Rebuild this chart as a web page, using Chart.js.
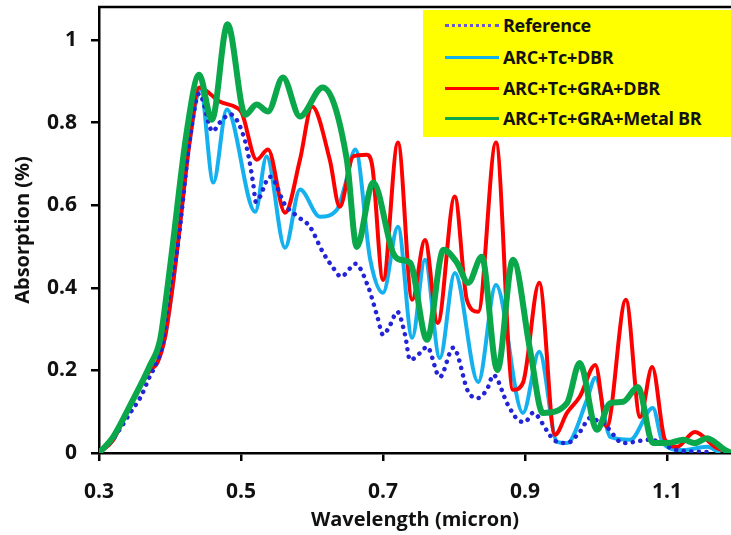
<!DOCTYPE html>
<html>
<head>
<meta charset="utf-8">
<script src="https://cdn.jsdelivr.net/npm/chart.js@4.4.0/dist/chart.umd.min.js"></script>
<style>
  html, body { margin: 0; padding: 0; background: #fff; }
  #wrap { position: relative; width: 731px; height: 535px; }
  #legend {
    position: absolute; left: 423px; top: 10px; width: 308px; height: 127px;
    background: #ffff00; font: bold 18px "Open Sans", sans-serif; color: #111;
    letter-spacing: -0.3px;
  }
  .item { position: absolute; left: 22px; height: 22px; display: flex; align-items: center; white-space: nowrap; }
  .swatch { width: 54px; height: 0; margin-right: 4px; }
</style>
</head>
<body>
<div id="wrap">
  <canvas id="absChart" width="731" height="535"></canvas>
  <div id="legend"></div>
</div>
<script>
// Absorption spectra
const xTicks = [0.3, 0.5, 0.7, 0.9, 1.1];
const yTicks = [0, 0.2, 0.4, 0.6, 0.8, 1];

const seriesNames = ['Reference', 'ARC+Tc+DBR', 'ARC+Tc+GRA+DBR', 'ARC+Tc+GRA+Metal BR'];

// Reference (dotted)
const refX = [0.300, 0.320, 0.345, 0.360, 0.370, 0.380, 0.390, 0.400, 0.410, 0.428, 0.441,
  0.460, 0.470, 0.485, 0.503, 0.511, 0.517, 0.521, 0.541, 0.562, 0.580, 0.597, 0.615,
  0.630, 0.641, 0.654, 0.661, 0.679, 0.692, 0.700, 0.710, 0.720, 0.731, 0.738, 0.752,
  0.762, 0.780, 0.799, 0.820, 0.834, 0.848, 0.855, 0.876, 0.890, 0.900, 0.911, 0.932,
  0.940, 0.959, 0.977, 0.992, 1.000, 1.015, 1.038, 1.076, 1.114, 1.160];
const refY = [0.000, 0.035, 0.100, 0.140, 0.180, 0.215, 0.270, 0.400, 0.490, 0.759, 0.870,
  0.779, 0.800, 0.820, 0.771, 0.715, 0.654, 0.608, 0.669, 0.601, 0.572, 0.548, 0.487,
  0.448, 0.427, 0.448, 0.458, 0.403, 0.330, 0.286, 0.310, 0.342, 0.286, 0.225, 0.242,
  0.257, 0.184, 0.255, 0.148, 0.133, 0.160, 0.189, 0.116, 0.080, 0.075, 0.097, 0.051,
  0.032, 0.024, 0.051, 0.085, 0.080, 0.063, 0.024, 0.032, 0.007, 0.002];

// ARC+Tc+DBR
const dbrX = [0.300, 0.320, 0.344, 0.372, 0.382, 0.393, 0.403, 0.410, 0.428, 0.443,
  0.461, 0.480, 0.520, 0.536, 0.562, 0.583, 0.611, 0.635, 0.646, 0.661, 0.682, 0.700,
  0.721, 0.741, 0.759, 0.780, 0.801, 0.834, 0.859, 0.897, 0.920, 0.945, 0.959, 0.987,
  0.999, 1.020, 1.048, 1.080, 1.094, 1.122, 1.156, 1.175];
const dbrY = [0.000, 0.032, 0.116, 0.201, 0.218, 0.281, 0.395, 0.492, 0.759, 0.880,
  0.655, 0.832, 0.584, 0.718, 0.497, 0.638, 0.572, 0.589, 0.645, 0.735, 0.468, 0.388,
  0.548, 0.279, 0.468, 0.230, 0.436, 0.172, 0.407, 0.097, 0.245, 0.027, 0.024, 0.128,
  0.182, 0.039, 0.032, 0.109, 0.024, 0.007, 0.015, 0.000];

// ARC+Tc+GRA+DBR
const graX = [0.300, 0.320, 0.344, 0.372, 0.382, 0.393, 0.403, 0.410, 0.428, 0.441,
  0.470, 0.494, 0.501, 0.522, 0.538, 0.562, 0.583, 0.600, 0.625, 0.639, 0.658, 0.677,
  0.685, 0.700, 0.721, 0.741, 0.759, 0.777, 0.801, 0.818, 0.834, 0.859, 0.883, 0.897,
  0.920, 0.942, 0.959, 0.977, 0.999, 1.015, 1.042, 1.062, 1.079, 1.097, 1.114, 1.139,
  1.170, 1.190];
const graY = [0.000, 0.032, 0.116, 0.201, 0.218, 0.281, 0.395, 0.492, 0.759, 0.885,
  0.851, 0.836, 0.824, 0.710, 0.735, 0.582, 0.710, 0.839, 0.710, 0.596, 0.718, 0.722,
  0.693, 0.419, 0.752, 0.371, 0.516, 0.315, 0.621, 0.371, 0.342, 0.752, 0.153, 0.170,
  0.412, 0.044, 0.097, 0.136, 0.213, 0.063, 0.371, 0.087, 0.208, 0.032, 0.015, 0.051,
  0.012, 0.002];

// ARC+Tc+GRA+Metal BR
const metalX = [0.300, 0.320, 0.344, 0.372, 0.386, 0.396, 0.403, 0.424, 0.441, 0.459,
  0.481, 0.506, 0.522, 0.538, 0.559, 0.583, 0.615, 0.649, 0.663, 0.686, 0.714, 0.724,
  0.738, 0.762, 0.785, 0.804, 0.820, 0.839, 0.861, 0.883, 0.907, 0.925, 0.959, 0.977,
  1.001, 1.020, 1.038, 1.059, 1.080, 1.101, 1.123, 1.139, 1.156, 1.182, 1.190];
const metalY = [0.000, 0.039, 0.116, 0.213, 0.274, 0.395, 0.492, 0.783, 0.916, 0.807,
  1.038, 0.819, 0.844, 0.827, 0.909, 0.815, 0.885, 0.710, 0.499, 0.655, 0.485, 0.468,
  0.461, 0.274, 0.492, 0.461, 0.412, 0.475, 0.201, 0.468, 0.250, 0.097, 0.121, 0.218,
  0.056, 0.121, 0.124, 0.160, 0.024, 0.024, 0.032, 0.024, 0.036, 0.007, 0.000];

const colors = ['#2323d8', '#14b1ee', '#ff0000', '#0aa84a'];
const widths = [4.5, 4, 4, 6];

function toPoints(xs, ys) {
  return xs.map((x, i) => ({ x: x, y: ys[i] }));
}

const FONT = '"Open Sans", sans-serif';

// Excel-style frame line along the top of the plot area
const topBorder = {
  id: 'topBorder',
  afterDraw(chart) {
    const { ctx, chartArea } = chart;
    ctx.save();
    ctx.strokeStyle = '#000';
    ctx.lineWidth = 2.5;
    ctx.beginPath();
    ctx.moveTo(chartArea.left - 1, chartArea.top);
    ctx.lineTo(chartArea.right, chartArea.top);
    ctx.stroke();
    ctx.restore();
  }
};

const datasets = [
  { label: seriesNames[0], data: toPoints(refX, refY), borderColor: colors[0], borderWidth: widths[0],
    borderDash: [0.1, 7.5], borderCapStyle: 'round', order: 1 },
  { label: seriesNames[1], data: toPoints(dbrX, dbrY), borderColor: colors[1], borderWidth: widths[1], order: 3 },
  { label: seriesNames[2], data: toPoints(graX, graY), borderColor: colors[2], borderWidth: widths[2], order: 2 },
  { label: seriesNames[3], data: toPoints(metalX, metalY), borderColor: colors[3], borderWidth: widths[3], order: 0 }
];
datasets.forEach(d => {
  d.pointRadius = 0;
  d.fill = false;
  d.cubicInterpolationMode = 'monotone';
  d.borderJoinStyle = 'round';
});

const tickFont = { family: FONT, size: 21, weight: 'bold' };
const titleFont = { family: FONT, size: 20, weight: 'bold' };

new Chart(document.getElementById('absChart'), {
  type: 'line',
  data: { datasets: datasets },
  options: {
    responsive: false,
    animation: false,
    layout: { padding: { top: 7, right: 0, left: 0, bottom: 0 } },
    plugins: { legend: { display: false }, tooltip: { enabled: false } },
    scales: {
      x: {
        type: 'linear',
        min: 0.3,
        max: 1.19,
        afterBuildTicks: s => { s.ticks = xTicks.map(v => ({ value: v })); },
        afterFit: s => { s.height = 82; s.paddingLeft = 0; s.paddingRight = 0; },
        grid: { drawOnChartArea: false, tickLength: 8, color: '#000', lineWidth: 2.5 },
        border: { color: '#000', width: 2.5 },
        ticks: { color: '#111', padding: 18, maxRotation: 0, autoSkip: false,
          font: tickFont, callback: v => String(v) },
        title: { display: true, text: 'Wavelength (micron)', color: '#111',
          font: titleFont, padding: { top: 0, bottom: 3 } }
      },
      y: {
        min: 0,
        max: 1.08,
        afterBuildTicks: s => { s.ticks = yTicks.map(v => ({ value: v })); },
        afterFit: s => { s.width = 99; s.paddingTop = 0; s.paddingBottom = 0; },
        grid: { drawOnChartArea: false, tickLength: 8, color: '#000', lineWidth: 2.5 },
        border: { color: '#000', width: 2.5 },
        ticks: { color: '#111', padding: 14, autoSkip: false,
          font: tickFont, callback: v => String(v) },
        title: { display: true, text: 'Absorption (%)', color: '#111',
          font: titleFont, padding: { top: 11, bottom: 0 } }
      }
    }
  },
  plugins: [topBorder]
});

// Legend box (yellow) drawn as HTML
const legendTops = [4, 36, 67, 97];
const legend = document.getElementById('legend');
seriesNames.forEach((name, i) => {
  const item = document.createElement('div');
  item.className = 'item';
  item.style.top = legendTops[i] + 'px';
  const sw = document.createElement('span');
  sw.className = 'swatch';
  sw.style.borderTop = i === 0 ? '3px dotted #6a5acd' : '3px solid ' + colors[i];
  const txt = document.createElement('span');
  txt.textContent = name;
  item.appendChild(sw);
  item.appendChild(txt);
  legend.appendChild(item);
});
</script>
</body>
</html>
